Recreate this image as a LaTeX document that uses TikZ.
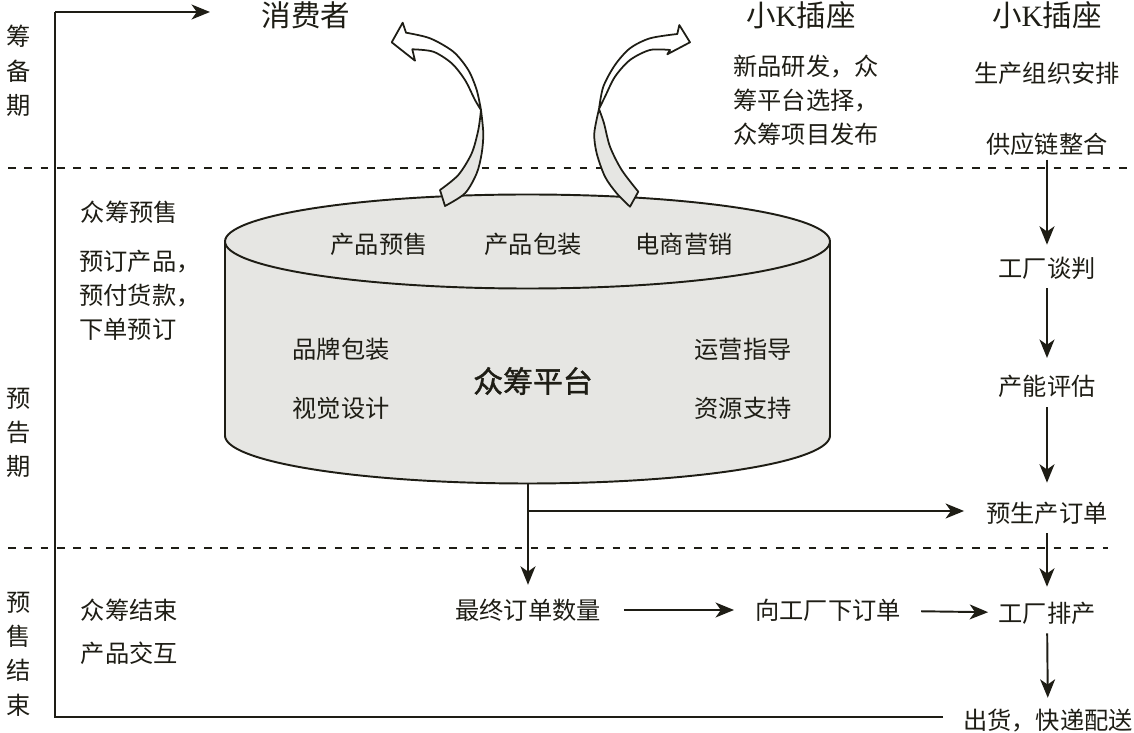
\documentclass[tikz,border=0pt]{standalone}
\usepackage{fontspec}
\setmainfont{Noto Sans CJK SC}
\newfontfamily\latinserif{Liberation Serif}
\newfontfamily\cjkfakebold[FakeBold=1.3]{Noto Sans CJK SC}
\usetikzlibrary{arrows.meta}
\definecolor{ink}{HTML}{1E1D15}
\definecolor{cylgray}{HTML}{E6E6E3}
\begin{document}
\begin{tikzpicture}[x=0.02cm, y=-0.02cm,
  line/.style={draw=ink, line width=1.1pt},
  arr/.style={line, -{Stealth[length=10.5pt,width=8.5pt,inset=3pt]}},
  dashline/.style={draw=ink, line width=1.1pt, dash pattern=on 4.3pt off 5pt},
  ribbon/.style={draw=ink, line width=1pt, line join=round},
  txt/.style={text=ink, font=\fontsize{13.8pt}{19pt}\selectfont, inner sep=2pt, text height=12pt, text depth=1.5pt},
  block/.style={text=ink, font=\fontsize{13.8pt}{19.3pt}\selectfont, inner sep=0pt, align=left, anchor=west},
  vlabel/.style={text=ink, font=\fontsize{13.8pt}{19.5pt}\selectfont, inner sep=0pt, align=center},
  title/.style={text=ink, font=\fontsize{16.8pt}{20pt}\selectfont, inner sep=2pt},
  bigtitle/.style={text=ink, font=\fontsize{17pt}{20pt}\selectfont\cjkfakebold, inner sep=2pt}
]
\useasboundingbox (0,0) rectangle (1134,733);

% phase separators
\draw[dashline] (8,168) -- (1128,168);
\draw[dashline] (8,548) -- (1108,548);

% phase labels
\node[vlabel] (p1) at (19,71) {筹\\备\\期};
\node[vlabel] (p2) at (19,433) {预\\告\\期};
\node[vlabel] (p3) at (19,654) {预\\售\\结\\束};

% top titles
\node[title] (xf) at (306,15) {消费者};
\node[title] (k1) at (801,15) {小{\latinserif K}插座};
\node[title] (k2) at (1047,15) {小{\latinserif K}插座};
\node[block] (yf) at (733,100) {新品研发，众\\筹平台选择，\\众筹项目发布};
\node[txt] (sc) at (1047,73) {生产组织安排};
\node[txt] (gyl) at (1047,144) {供应链整合};

% left texts
\node[txt, anchor=west] (zcys) at (77,212) {众筹预售};
\node[block] (ydcp) at (79,295) {预订产品，\\预付货款，\\下单预订};
\node[txt, anchor=west] (zcjs) at (77,610) {众筹结束};
\node[txt, anchor=west] (cpjh) at (77,653) {产品交互};

% cylinder
\fill[cylgray] (225,241.5) rectangle (830,435.5);
\fill[cylgray] (527.5,435.5) ellipse [x radius=302.5, y radius=48];
\draw[line] (225,241.5) -- (225,435.5)
  -- plot[domain=180:360, samples=90] ({527.5+302.5*cos(\x)}, {435.5-48*sin(\x)})
  -- (830,241.5);
\filldraw[fill=cylgray, draw=ink, line width=1.1pt] (527.5,241.5) ellipse [x radius=302.5, y radius=47];
\coordinate (cylbot) at (528,483.5);

\node[txt] (c1) at (379,244) {产品预售};
\node[txt] (c2) at (533,244) {产品包装};
\node[txt] (c3) at (684,244) {电商营销};
\node[txt] (c4) at (341,349) {品牌包装};
\node[txt] (c5) at (341,408) {视觉设计};
\node[txt] (c6) at (743,349) {运营指导};
\node[txt] (c7) at (743,408) {资源支持};
\node[bigtitle] (zcpt) at (533,381) {众筹平台};

% ribbon arrows (left)
\filldraw[ribbon, fill=cylgray]
  plot[smooth] coordinates {(481,110) (483.3,133.3) (481.7,153.3) (476.7,173.3) (465,193.3) (445,206)}
  -- (440,190)
  -- plot[smooth] coordinates {(440,190) (458.3,175) (471.7,153.3) (478.3,130) (481,110)} -- cycle;
\filldraw[ribbon, fill=white]
  plot[smooth] coordinates {(481,110) (476.7,90) (468.3,70) (453.3,51.7) (430,38.3) (406,32.7)}
  -- (402.7,22.7) -- (391.7,42.3) -- (415,60.7) -- (412.3,49.3)
  -- plot[smooth] coordinates {(412.3,49.3) (433.3,51.7) (451.7,63.3) (465,80) (475,100) (481,110)} -- cycle;
% ribbon arrows (right)
\filldraw[ribbon, fill=cylgray]
  plot[smooth] coordinates {(599,109) (594.3,133.3) (596.7,153.3) (605,176.7) (616.7,193.3) (630,206.7)}
  -- (638.3,191.7)
  -- plot[smooth] coordinates {(638.3,191.7) (621.7,170) (610,146.7) (604,123.3) (599,109)} -- cycle;
\filldraw[ribbon, fill=white]
  plot[smooth] coordinates {(599,109) (603.3,86.7) (615,65) (630,48.3) (650,38.3) (677.3,34)}
  -- (679.3,25) -- (690,42.3) -- (667.3,54.3) -- (670,50)
  -- plot[smooth] coordinates {(670,50) (650,50) (630,60) (615,76.7) (605,96.7) (599,109)} -- cycle;

% right column
\node[txt] (gctp) at (1047,268) {工厂谈判};
\node[txt] (cnpg) at (1047,386) {产能评估};
\node[txt] (yscdd) at (1047,513) {预生产订单};
\node[txt] (gcpc) at (1047,613) {工厂排产};
\node[txt] (ch) at (1048,720) {出货，快递配送};
\node[txt] (zzdd) at (528,610) {最终订单数量};
\node[txt] (xgc) at (828,610) {向工厂下订单};

\draw[arr, shorten >=4.3pt] (gyl) -- (gctp);
\draw[arr, shorten <=2.6pt, shorten >=7pt] (gctp) -- (cnpg);
\draw[arr, shorten <=3.2pt, shorten >=8.3pt] (cnpg) -- (yscdd);
\draw[arr, shorten <=2.6pt, shorten >=6pt] (yscdd) -- (gcpc);
\draw[arr, shorten <=2.6pt, shorten >=3.7pt] (gcpc) -- (ch);

\draw[arr, shorten <=11pt, shorten >=9.9pt] (zzdd) -- (xgc);
\draw[arr, shorten <=9.4pt, shorten >=3.7pt] (xgc) -- (gcpc);

\coordinate (br) at (528,511);
\draw[arr, shorten >=5.4pt] (cylbot) -- (zzdd);
\draw[arr, shorten >=10.5pt] (br) -- (br -| yscdd.west);

% outer loop line
\coordinate (be) at (943,717);
\coordinate (bl) at (55,717);
\coordinate (tl) at (55,12);
\coordinate (ta) at (210,12);
\draw[line, line join=miter] (be) -- (bl) -- (tl);
\draw[arr] (tl) -- (ta);
\end{tikzpicture}
\end{document}
